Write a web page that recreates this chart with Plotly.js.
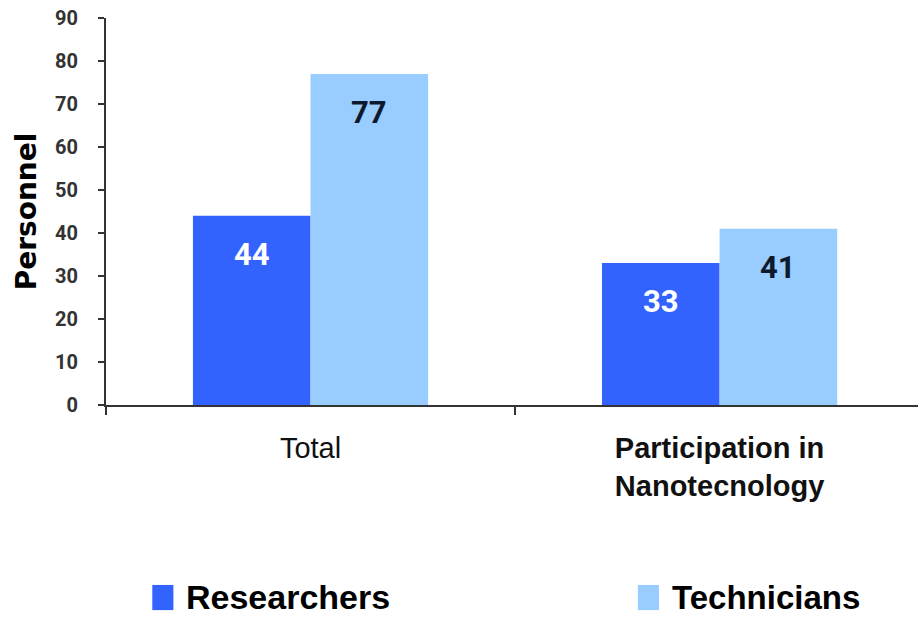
<!DOCTYPE html>
<html>
<head>
<meta charset="utf-8">
<script src="https://cdn.plot.ly/plotly-3.0.1.min.js"></script>
<style>
  html, body { margin: 0; padding: 0; background: #ffffff; }
  #chart { width: 920px; height: 617px; }
</style>
</head>
<body>
<div id="chart"></div>
<script>
// Staff counts per category
const categories = ['Total', 'Participation in Nanotecnology'];
const tickLabels = ['Total', '<b>Participation in<br>Nanotecnology</b>'];
const researchers = [44, 33];
const technicians = [77, 41];
const seriesNames = ['Researchers', 'Technicians'];
const seriesColors = ['#3363FF', '#99CCFF'];
const labelColors = ['#FFFFFF', '#0D1A2E'];

const BARGAP = 0.425;
const narrow = 'Roboto, "Liberation Sans", sans-serif';
const arial = 'Arial, "Liberation Sans", sans-serif';

const series = [researchers, technicians];

const traces = series.map((vals, i) => ({
  type: 'bar',
  name: seriesNames[i],
  x: categories,
  y: vals,
  marker: { color: seriesColors[i], line: { width: 0 } },
  showlegend: false,
  hoverinfo: 'x+y+name'
}));

// Value labels placed near the top of each bar
const halfBar = (1 - BARGAP) / 4;
const annotations = [];
series.forEach((vals, i) => {
  vals.forEach((v, j) => {
    annotations.push({
      xref: 'x', yref: 'y',
      x: j + (i === 0 ? -halfBar : halfBar),
      y: v,
      yanchor: 'top',
      yshift: -18,
      text: String(v),
      showarrow: false,
      font: { family: narrow, size: 31, color: labelColors[i], weight: 'bold' }
    });
  });
});

// Legend drawn below the plot: swatch + name
const legendX = [0.057, 0.655];
const swatchW = 0.026;
const shapes = [];
seriesNames.forEach((name, i) => {
  shapes.push({
    type: 'rect', xref: 'paper', yref: 'paper',
    x0: legendX[i], x1: legendX[i] + swatchW,
    y0: -0.530, y1: -0.465,
    fillcolor: seriesColors[i], line: { width: 0 }
  });
  annotations.push({
    xref: 'paper', yref: 'paper',
    x: legendX[i] + swatchW + 0.013, y: -0.497,
    xanchor: 'left', yanchor: 'middle',
    text: '<b>' + name + '</b>',
    showarrow: false,
    font: { family: arial, size: i === 0 ? 34 : 33, color: '#000000' }
  });
});

const layout = {
  width: 920,
  height: 617,
  margin: { l: 106, r: 2, t: 18, b: 212 },
  paper_bgcolor: '#ffffff',
  plot_bgcolor: '#ffffff',
  barmode: 'group',
  bargap: BARGAP,
  bargroupgap: 0,
  showlegend: false,
  xaxis: {
    type: 'category',
    range: [-0.5, 1.485],
    tickmode: 'array',
    tickvals: categories,
    ticktext: tickLabels,
    tickson: 'boundaries',
    ticks: 'outside',
    ticklen: 8,
    tickwidth: 1.5,
    tickcolor: '#333333',
    showline: true,
    linecolor: '#333333',
    linewidth: 2,
    showgrid: false,
    zeroline: false,
    ticklabelstandoff: 16,
    tickfont: { family: arial, size: 29, color: '#111111' },
    fixedrange: true
  },
  yaxis: {
    range: [0, 90],
    dtick: 10,
    ticks: 'outside',
    ticklen: 6,
    tickwidth: 1.5,
    tickcolor: '#333333',
    showline: true,
    linecolor: '#333333',
    linewidth: 2,
    showgrid: false,
    zeroline: false,
    ticklabelstandoff: 16,
    tickfont: { family: narrow, size: 20, color: '#333333', weight: 'bold' },
    title: {
      text: '<b>Personnel</b>',
      font: { family: '"DejaVu Sans", sans-serif', size: 28, color: '#000000' },
      standoff: 10
    },
    fixedrange: true
  },
  annotations: annotations,
  shapes: shapes
};

Plotly.newPlot('chart', traces, layout, { displayModeBar: false, staticPlot: true });
</script>
</body>
</html>
